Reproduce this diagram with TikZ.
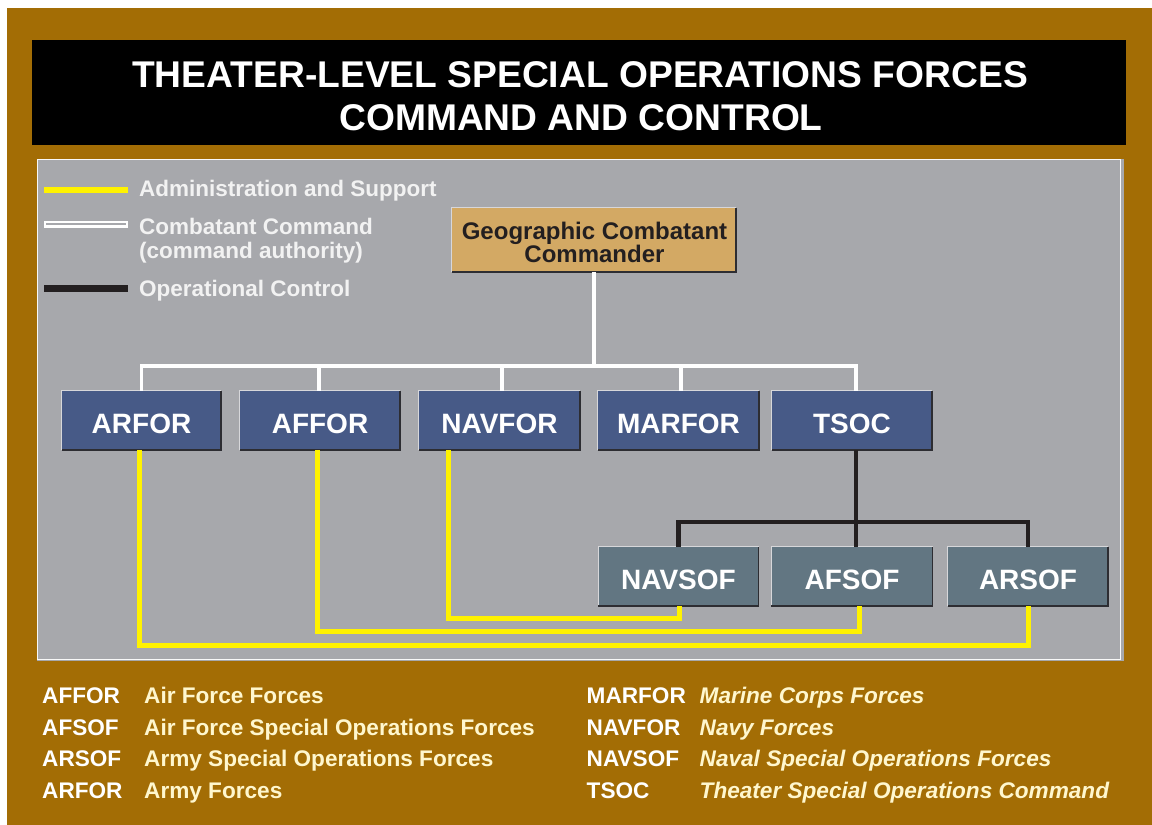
\documentclass[tikz,border=0pt]{standalone}
\usepackage{fontspec}
\setmainfont{Liberation Sans}
\usetikzlibrary{calc}
\definecolor{brownbg}{RGB}{163,109,5}
\definecolor{panelgray}{RGB}{167,168,172}
\definecolor{boxblue}{RGB}{71,90,135}
\definecolor{boxslate}{RGB}{98,118,130}
\definecolor{tan}{RGB}{211,169,100}
\definecolor{ylw}{RGB}{255,242,0}
\definecolor{darkline}{RGB}{35,31,32}
\definecolor{legtext}{RGB}{242,242,242}
\definecolor{cream}{RGB}{255,247,206}
\definecolor{lightedge}{RGB}{215,215,218}
\definecolor{darkedge}{RGB}{45,45,50}
\begin{document}
\begin{tikzpicture}[x=1pt,y=-1pt,
  titletext/.style={text=white,font=\fontsize{37.2}{44}\selectfont\bfseries,anchor=base,inner sep=0},
  legendtext/.style={text=legtext,font=\fontsize{22.5}{24}\selectfont\bfseries,anchor=base west,inner sep=0},
  orgbox/.style={minimum height=59pt,inner sep=0,text height=25pt,text depth=0pt,text=white,font=\fontsize{28}{32}\selectfont\bfseries},
  topbox/.style={orgbox,fill=boxblue},
  sofbox/.style={orgbox,fill=boxslate},
  gccbox/.style={fill=tan,minimum width=284pt,minimum height=64pt,inner sep=0,text=darkline,align=center,font=\fontsize{24}{24}\selectfont\bfseries},
  gcctext/.style={text=darkline,font=\fontsize{24}{24}\selectfont\bfseries,anchor=base,inner sep=0},
  wline/.style={white,line width=3.8pt,line join=miter},
  yline/.style={ylw,line width=5pt,line join=miter},
  kline/.style={darkline,line width=4.6pt,line join=miter},
  abbr/.style={text=white,font=\fontsize{22.6}{26}\selectfont\bfseries,anchor=base west,inner sep=0},
  defn/.style={text=cream,font=\fontsize{22.6}{26}\selectfont\bfseries,anchor=base west,inner sep=0},
  defi/.style={defn,font=\fontsize{22.6}{26}\selectfont\bfseries\itshape}
]
\useasboundingbox (0,0) rectangle (1152,825);
\fill[white] (0,0) rectangle (1152,825);
\fill[brownbg] (7,8) rectangle (1152,825);
% title
\fill[black] (32,40) rectangle (1126,145);
\node[titletext] (t1) at (580,87) {THEATER-LEVEL SPECIAL OPERATIONS FORCES};
\node[titletext] (t2) at (581,130) {COMMAND AND CONTROL};
% panel
\fill[panelgray] (37,159) rectangle (1124,661);
\draw[white!92!panelgray,line width=1pt] (37.5,159.5) rectangle (1120.5,659.5);
% legend
\draw[ylw,line width=5.5pt] (44,190) -- (128,190);
\draw[white,line width=7pt] (44,224) -- (128,224);
\draw[panelgray,line width=2pt] (46,224) -- (126,224);
\draw[darkline,line width=7pt] (44,288) -- (128,288);
\node[legendtext] (l1) at (139,196.5) {Administration and Support};
\node[legendtext] (l2) at (139,234) {Combatant Command};
\node[legendtext] (l3) at (139,258) {(command authority)};
\node[legendtext] (l4) at (139,296.5) {Operational Control};
% boxes
\node[gccbox] (gcc) at (594,240) {};
\node[gcctext] (gcc1) at (594.5,239) {Geographic Combatant};
\node[gcctext] (gcc2) at (594.5,262.5) {Commander};
\node[topbox,minimum width=159pt] (arfor) at (141.5,420.5) {ARFOR};
\node[topbox,minimum width=160pt] (affor) at (320,420.5) {AFFOR};
\node[topbox,minimum width=161pt] (navfor) at (499.5,420.5) {NAVFOR};
\node[topbox,minimum width=161pt] (marfor) at (678.5,420.5) {MARFOR};
\node[topbox,minimum width=160pt] (tsoc) at (852,420.5) {TSOC};
\node[sofbox,minimum width=160pt] (navsof) at (678.5,576.5) {NAVSOF};
\node[sofbox,minimum width=161pt] (afsof) at (852,576.5) {AFSOF};
\node[sofbox,minimum width=160pt] (arsof) at (1028,576.5) {ARSOF};
\foreach \n in {gcc,arfor,affor,navfor,marfor,tsoc,navsof,afsof,arsof}{
  \draw[lightedge,line width=1.2pt] (\n.south west) -- (\n.north west) -- (\n.north east);
  \draw[darkedge,line width=1.5pt] (\n.north east) -- (\n.south east) -- (\n.south west);
}
% white command lines
\coordinate (wbar) at (594,366);
\coordinate (affN) at ($(affor.north)+(-1,0)$);
\coordinate (navN) at ($(navfor.north)+(2.5,0)$);
\coordinate (marN) at ($(marfor.north)+(2.5,0)$);
\coordinate (tsocN) at ($(tsoc.north)+(4,0)$);
\draw[wline] (gcc.south) -- (wbar);
\draw[wline] (arfor.north) |- (wbar) -| (tsocN);
\draw[wline] (affN |- wbar) -- (affN);
\draw[wline] (navN |- wbar) -- (navN);
\draw[wline] (marN |- wbar) -- (marN);
% operational control
\coordinate (tsocS) at ($(tsoc.south)+(4,0)$);
\draw[kline] (tsocS) -- (tsocS |- afsof.north);
\draw[kline] (navsof.north) -- ++(0,-25) -| (arsof.north);
% admin and support
\coordinate (ya1) at ($(arfor.south)+(-2.5,0)$);
\coordinate (ya2) at ($(affor.south)+(-3,0)$);
\coordinate (ya3) at ($(navfor.south)+(-51.5,0)$);
\coordinate (yb2) at ($(afsof.south)+(7.6,0)$);
\coordinate (yb3) at ($(navsof.south)+(0.8,0)$);
\draw[yline] (ya1) -- ++(0,195) -| (arsof.south);
\draw[yline] (ya2) -- ++(0,181) -| (yb2);
\draw[yline] (ya3) -- ++(0,168.5) -| (yb3);
% glossary
\node[abbr] (g1a) at (42,703) {AFFOR};
\node[defn] (g1b) at (144,703) {Air Force Forces};
\node[abbr] (g2a) at (42,735) {AFSOF};
\node[defn] (g2b) at (144,735) {Air Force Special Operations Forces};
\node[abbr] (g3a) at (42,766.5) {ARSOF};
\node[defn] (g3b) at (144,766.5) {Army Special Operations Forces};
\node[abbr] (g4a) at (42,798) {ARFOR};
\node[defn] (g4b) at (144,798) {Army Forces};
\node[abbr] (h1a) at (586.5,703) {MARFOR};
\node[defi] (h1b) at (699.5,703) {Marine Corps Forces};
\node[abbr] (h2a) at (586.5,735) {NAVFOR};
\node[defi] (h2b) at (699.5,735) {Navy Forces};
\node[abbr] (h3a) at (586.5,766.5) {NAVSOF};
\node[defi] (h3b) at (699.5,766.5) {Naval Special Operations Forces};
\node[abbr] (h4a) at (586.5,798) {TSOC};
\node[defi] (h4b) at (699.5,798) {Theater Special Operations Command};
\end{tikzpicture}
\end{document}
